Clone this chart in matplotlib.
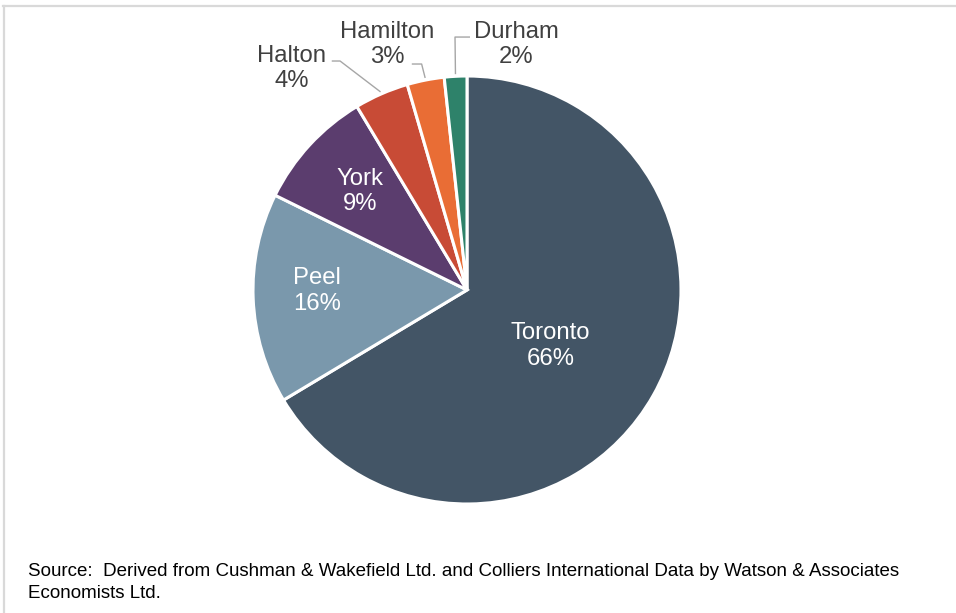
import numpy as np
import matplotlib
matplotlib.use("Agg")
import matplotlib.pyplot as plt
from matplotlib.lines import Line2D

plt.rcParams['font.family'] = ['Liberation Sans', 'DejaVu Sans']

regions = ["Toronto", "Peel", "York", "Halton", "Hamilton", "Durham"]
shares = [66.4, 15.9, 9.1, 4.1, 2.8, 1.7]
pct_labels = ["66%", "16%", "9%", "4%", "3%", "2%"]
colors = ["#435566", "#7A98AC", "#5B3D6E", "#C84B36", "#E96D35", "#2E826A"]
source = ("Source:  Derived from Cushman & Wakefield Ltd. and Colliers International Data by Watson & Associates\n"
          "Economists Ltd.")

W, H = 956, 613
fig = plt.figure(figsize=(W / 100, H / 100), dpi=100)
ax = fig.add_axes([0, 0, 1, 1])
cx, cy, R = 467, 290, 214

wedges, _ = ax.pie(shares, colors=colors, startangle=90, counterclock=False,
                   radius=1, center=(0, 0), labeldistance=None,
                   wedgeprops=dict(edgecolor='white', linewidth=2.2))
ax.set_xlim(-cx / R, (W - cx) / R)
ax.set_ylim(-(H - cy) / R, cy / R)
ax.set_aspect('equal')
ax.axis('off')

fs = 17.2
ls = 1.22
# inside labels: (radius fraction, angle offset deg)
inside = {0: (0.47, -4.5), 1: (0.70, -1.9), 2: (0.68, 0)}
for i, w in enumerate(wedges):
    mid = np.deg2rad((w.theta1 + w.theta2) / 2)
    if i in inside:
        r, off = inside[i]
        a = mid + np.deg2rad(off)
        ax.text(r * np.cos(a), r * np.sin(a), f"{regions[i]}\n{pct_labels[i]}",
                ha='center', va='center', color='white', fontsize=fs, linespacing=ls)

# outside labels with leader lines
outside = {
    3: dict(text=(-0.82, 1.035), line=[(-0.632, 1.07), (-0.593, 1.07)]),
    4: dict(text=(-0.372, 1.147), line=[(-0.258, 1.056), (-0.212, 1.056)]),
    5: dict(text=(0.229, 1.147), line=[(0.014, 1.182), (-0.056, 1.182)]),
}
for i, o in outside.items():
    w = wedges[i]
    mid = np.deg2rad((w.theta1 + w.theta2) / 2)
    end = (1.01 * np.cos(mid), 1.01 * np.sin(mid))
    pts = o['line'] + [end]
    ax.plot([p[0] for p in pts], [p[1] for p in pts], color='#A6A6A6', lw=1.0,
            solid_capstyle='butt')
    ax.text(o['text'][0], o['text'][1], f"{regions[i]}\n{pct_labels[i]}",
            ha='center', va='center', color='#404040', fontsize=fs, linespacing=ls)

# frame
fig.add_artist(Line2D([3 / W, 1], [1 - 5.5 / H, 1 - 5.5 / H], color='#D9D9D9', lw=1.6,
                      transform=fig.transFigure))
fig.add_artist(Line2D([3.5 / W, 3.5 / W], [0, 1 - 5.5 / H], color='#D9D9D9', lw=1.6,
                      transform=fig.transFigure))

fig.text(28 / W, 1 - 582.5 / H, source, ha='left', va='center', fontsize=13.5,
         color='black', linespacing=1.45)

fig.savefig("out.png", dpi=100)
